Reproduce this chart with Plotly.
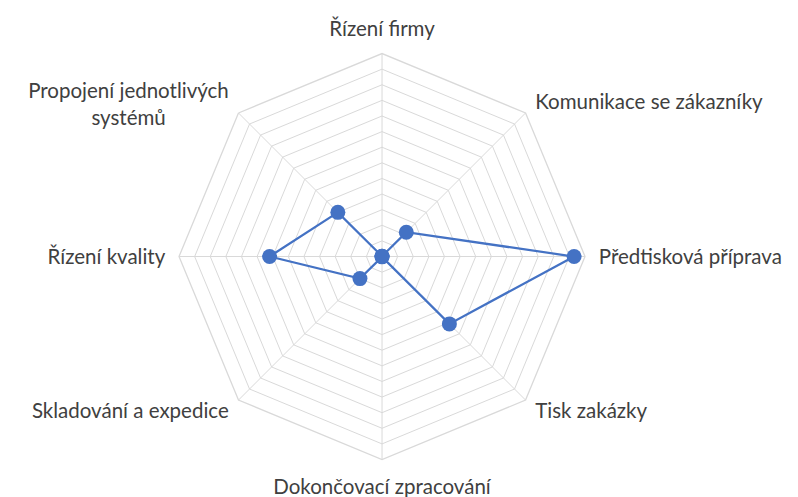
import plotly.graph_objects as go

NB = "\u00a0"

categories = [
    "Řízení firmy",
    NB + "<br>Komunikace se zákazníky",
    "Předtisková příprava",
    "Tisk zakázky" + ("<br>" + NB) * 3,
    "Dokončovací zpracování",
    "Skladování a expedice" + ("<br>" + NB) * 3,
    "Řízení kvality",
    (NB + "<br>") * 4 + "Propojení jednotlivých<br>systémů" + NB * 12,
]
# near-zero values read at the centre of the chart
values = [0.1, 11, 61.5, 30.5, 0.1, 10, 36, 20]

r_closed = values + values[:1]
theta_closed = categories + categories[:1]

fig = go.Figure()
fig.add_trace(go.Scatterpolar(
    r=r_closed,
    theta=theta_closed,
    mode="lines+markers",
    line=dict(color="#4472C4", width=2.25),
    marker=dict(color="#4472C4", size=15),
    cliponaxis=False,
    showlegend=False,
    hoverinfo="r+theta",
))

fig.update_layout(
    width=798,
    height=497,
    margin=dict(l=0, r=0, t=0, b=0),
    paper_bgcolor="white",
    plot_bgcolor="white",
    font=dict(family="Lato", size=20.5, color="#404040"),
    polar=dict(
        domain=dict(x=[0.2143, 0.7231], y=[0.0915, 0.9084]),
        gridshape="linear",
        bgcolor="white",
        radialaxis=dict(
            range=[0, 65],
            dtick=5,
            tick0=0,
            showticklabels=False,
            ticks="",
            showline=False,
            gridcolor="#d9d9d9",
            gridwidth=1.3,
        ),
        angularaxis=dict(
            direction="clockwise",
            rotation=90,
            gridcolor="#d9d9d9",
            gridwidth=1.3,
            linecolor="#d9d9d9",
            linewidth=1.3,
            showline=True,
            ticks="outside",
            ticklen=9,
            tickcolor="rgba(0,0,0,0)",
            tickfont=dict(family="Lato", size=20.5, color="#404040"),
        ),
    ),
)

fig.write_html("out.html")
